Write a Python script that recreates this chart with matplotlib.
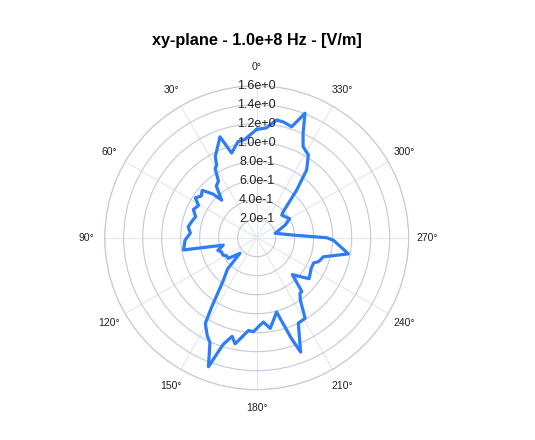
import numpy as np
import matplotlib
matplotlib.use("Agg")
import matplotlib.pyplot as plt

# field magnitude, angle in degrees (counterclockwise from top)
angle_deg = [0, 4, 7, 11, 16.5, 20, 22.5, 27, 29, 31, 34, 38, 43, 45, 49, 53, 57,
             61, 66, 71, 76, 81, 86, 92, 99.5, 102.5, 108, 112, 117, 121, 126, 133,
             137, 142, 147, 149, 153, 156, 159.5, 162.5, 166, 168.5, 175, 178, 184.5,
             188.5, 195, 197.5, 199, 201, 206, 211, 215, 218, 220, 224, 229, 232,
             240, 246, 249, 254, 260, 268, 270, 274, 283.5, 294, 300, 312, 314.4,
             320, 323.6, 328, 333, 336, 338.8, 342.5, 347, 350.4, 355, 360]
field = [1.14, 1.08, 1.04, 1.03, 0.93, 1.13, 1.06, 0.96, 0.87, 0.85, 0.72, 0.69, 0.54,
         0.65, 0.76, 0.73, 0.77, 0.70, 0.73, 0.68, 0.705, 0.73, 0.70, 0.755, 0.78, 0.36,
         0.43, 0.40, 0.40, 0.37, 0.37, 0.24, 0.45, 0.57, 0.87, 1.05, 1.15, 1.21, 1.45,
         1.18, 1.07, 1.14, 0.98, 0.99, 0.89, 0.965, 0.81, 0.98, 1.12, 1.29, 1.00, 0.99,
         0.80, 0.74, 0.74, 0.54, 0.63, 0.70, 0.66, 0.655, 0.70, 0.73, 0.98, 0.81, 0.737,
         0.39, 0.20, 0.33, 0.40, 0.355, 0.39, 0.655, 0.886, 1.026, 1.076, 1.20, 1.405,
         1.225, 1.25, 1.257, 1.16, 1.14]

r_ticks = [0.2, 0.4, 0.6, 0.8, 1.0, 1.2, 1.4, 1.6]
r_labels = ["2.0e-1", "4.0e-1", "6.0e-1", "8.0e-1", "1.0e+0", "1.2e+0", "1.4e+0", "1.6e+0"]
theta_ticks = [0, 30, 60, 90, 120, 150, 180, 210, 240, 270, 300, 330]

plt.rcParams['font.family'] = ['Liberation Sans', 'DejaVu Sans']

fig = plt.figure(figsize=(5.35, 4.4), dpi=100)
ax = fig.add_axes([0.1957, 0.1143, 0.5682, 0.6909], projection='polar')
ax.set_theta_zero_location('N')
ax.set_theta_direction(1)

ax.plot(np.deg2rad(angle_deg), field, color='#2f7df6', lw=2.3, zorder=3,
        solid_joinstyle='round')

ax.set_ylim(0, 1.6)
ax.set_yticks(r_ticks)
ax.set_yticklabels([])
ax.set_xticks(np.deg2rad(theta_ticks))
ax.set_xticklabels([f"{t}°" for t in theta_ticks], fontsize=7.5, color='#222222')
ax.tick_params(axis='x', pad=3)

ax.yaxis.grid(True, color='#c3c9dc', lw=0.8)
ax.xaxis.grid(True, color='#e2e6f1', lw=0.8)
ax.spines['polar'].set_color('#c3c9dc')
ax.spines['polar'].set_linewidth(0.8)

# radial labels centred on the rings along the 0 deg spoke
for r, lab in zip(r_ticks, r_labels):
    ax.text(0, r, lab, ha='center', va='center', fontsize=9, color='#222222', zorder=4)

fig.text(0.48, 0.907, "xy-plane - 1.0e+8 Hz - [V/m]", ha='center', va='center',
         fontsize=11.7, fontweight='bold')

fig.savefig("out.png", dpi=100)
